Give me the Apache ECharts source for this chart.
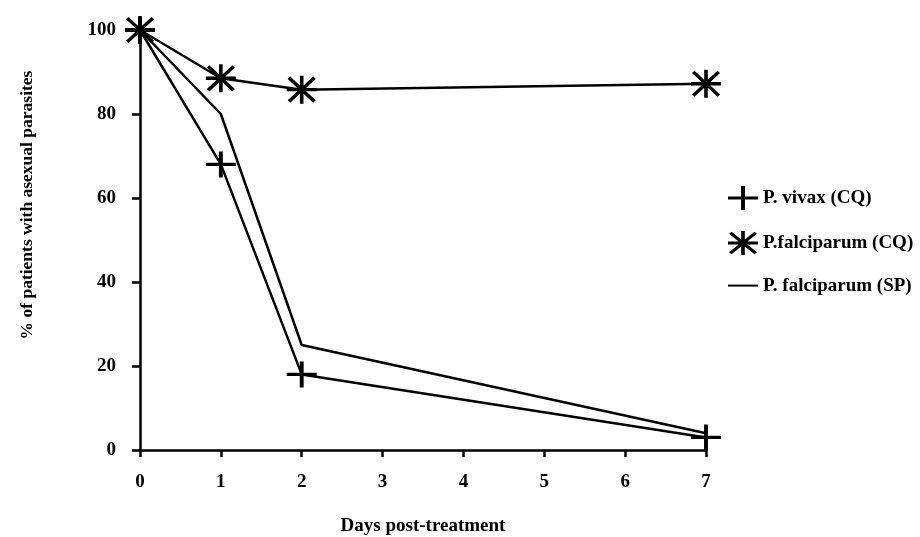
<!DOCTYPE html>
<html>
<head>
<meta charset="utf-8">
<script src="https://cdn.jsdelivr.net/npm/echarts@6/dist/echarts.min.js"></script>
<style>
html,body{margin:0;padding:0;background:#fff;}
#chart{width:920px;height:537px;}
</style>
</head>
<body>
<div id="chart"></div>
<script>
const days = [0, 1, 2, 7];
const xTicks = [0, 1, 2, 3, 4, 5, 6, 7];
const seriesNames = ['P. vivax (CQ)', 'P.falciparum (CQ)', 'P. falciparum (SP)'];
const vivaxCQ = [100, 68, 18, 3];
const falciparumCQ = [100, 88.5, 85.8, 87.2];
const falciparumSP = [100, 80, 25, 4];

const plusPath = 'path://M-1.3,-10 L1.3,-10 L1.3,-1.3 L10,-1.3 L10,1.3 L1.3,1.3 L1.3,10 L-1.3,10 L-1.3,1.3 L-10,1.3 L-10,-1.3 L-1.3,-1.3 Z';
const starPath = 'path://M-10,-1.2 L10,-1.2 L10,1.2 L-10,1.2 Z M-1.2,-10 L1.2,-10 L1.2,10 L-1.2,10 Z ' +
  'M-9.35,-7.65 L-7.65,-9.35 L9.35,7.65 L7.65,9.35 Z ' +
  'M7.65,-9.35 L9.35,-7.65 L-7.65,9.35 L-9.35,7.65 Z';

function pairs(vals) { return days.map((d, i) => [d, vals[i]]); }

const font = 'Liberation Serif';
const chart = echarts.init(document.getElementById('chart'));
chart.setOption({
  backgroundColor: '#fff',
  animation: false,
  grid: { left: 140, right: 214, top: 30, bottom: 87, outerBoundsMode: 'none', containLabel: false },
  xAxis: {
    type: 'value', min: 0, max: 7, interval: 1,
    name: 'Days post-treatment', nameLocation: 'middle', nameGap: 67, nameMoveOverlap: false,
    nameTextStyle: { fontFamily: font, fontWeight: 'bold', fontSize: 19, color: '#000' },
    axisLine: { lineStyle: { color: '#000', width: 2.5 } },
    axisTick: { length: 7, lineStyle: { color: '#000', width: 2.5 } },
    axisLabel: { fontFamily: font, fontWeight: 'bold', fontSize: 19, color: '#000', margin: 23,
      formatter: v => xTicks.indexOf(v) >= 0 ? String(v) : '' },
    splitLine: { show: false }
  },
  yAxis: {
    type: 'value', min: 0, max: 100, interval: 20,
    name: '% of patients with asexual parasites', nameLocation: 'middle', nameGap: 104, nameRotate: 90,
    nameMoveOverlap: false,
    nameTextStyle: { fontFamily: font, fontWeight: 'bold', fontSize: 17.5, color: '#000', padding: [0, 0, 0, 70] },
    axisLine: { show: true, lineStyle: { color: '#000', width: 2.5 } },
    axisTick: { show: true, length: 8, lineStyle: { color: '#000', width: 2.5 } },
    axisLabel: { fontFamily: font, fontWeight: 'bold', fontSize: 19, color: '#000', margin: 24 },
    splitLine: { show: false }
  },
  legend: {
    orient: 'vertical', left: 722, top: 181,
    itemWidth: 30, itemHeight: 24, itemGap: 21,
    symbolKeepAspect: false,
    textStyle: { fontFamily: font, fontWeight: 'bold', fontSize: 19, color: '#000' },
    data: [
      { name: seriesNames[0], icon: plusPath },
      { name: seriesNames[1], icon: starPath },
      { name: seriesNames[2], itemStyle: { opacity: 0 } }
    ]
  },
  series: [
    {
      name: seriesNames[2], type: 'line', data: pairs(falciparumSP),
      symbol: 'none', color: '#000',
      lineStyle: { color: '#000', width: 2.5 }, z: 2
    },
    {
      name: seriesNames[0], type: 'line', data: pairs(vivaxCQ),
      symbol: plusPath, symbolSize: [30, 26], symbolKeepAspect: false, color: '#000',
      itemStyle: { color: '#000', borderWidth: 0 },
      lineStyle: { color: '#000', width: 2.5 }, z: 3
    },
    {
      name: seriesNames[1], type: 'line', data: pairs(falciparumCQ),
      symbol: starPath, symbolSize: [30, 28], symbolKeepAspect: false, color: '#000',
      itemStyle: { color: '#000', borderWidth: 0 },
      lineStyle: { color: '#000', width: 2.5 }, z: 4
    }
  ]
});
</script>
</body>
</html>
